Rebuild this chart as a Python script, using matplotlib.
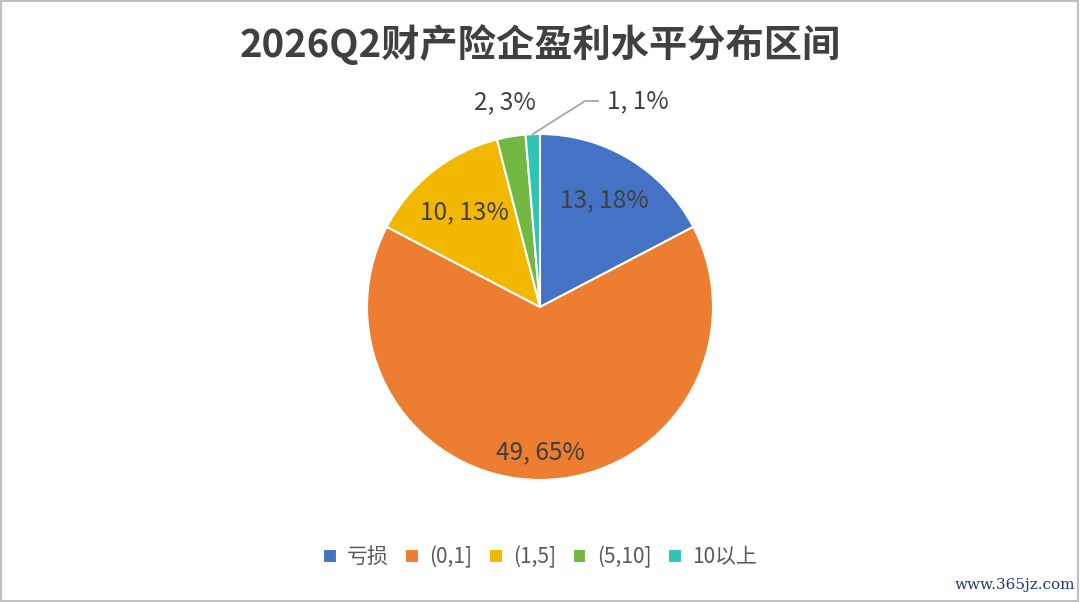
import numpy as np
import matplotlib
matplotlib.use('Agg')
import matplotlib.pyplot as plt
from matplotlib.patches import Rectangle

plt.rcParams['font.family'] = ['Noto Sans CJK SC', 'DejaVu Sans']

title = '2026Q2财产险企盈利水平分布区间'
categories = ['亏损', '(0,1]', '(1,5]', '(5,10]', '10以上']
counts = [13, 49, 10, 2, 1]
pct_labels = ['18%', '65%', '13%', '3%', '1%']
colors = ['#4472C4', '#ED7D31', '#F2B800', '#72B843', '#2EC4B6']

W, H = 1080, 602
fig = plt.figure(figsize=(W / 100, H / 100), dpi=100)
fig.patch.set_facecolor('white')

# pie centre ~ (540, 307) px, radius ~173 px
cx, cy, R = 540, H - 307, 173
ax = fig.add_axes([(cx - R) / W, (cy - R) / H, 2 * R / W, 2 * R / H])
wedges, _ = ax.pie(counts, colors=colors, startangle=90, counterclock=False,
                   wedgeprops=dict(edgecolor='white', linewidth=1.5))
ax.set_xlim(-1, 1)
ax.set_ylim(-1, 1)
ax.set_aspect('equal')
ax.axis('off')

txt_color = '#404040'
# label radius per slice (fraction of radius), >1 means outside
label_r = [0.72, 0.84, 0.70, 1.20, None]
for i, w in enumerate(wedges):
    ang = np.deg2rad((w.theta1 + w.theta2) / 2)
    s = '{}, {}'.format(counts[i], pct_labels[i])
    if label_r[i] is not None:
        r = label_r[i]
        ax.text(r * np.cos(ang), r * np.sin(ang), s, ha='center', va='center',
                fontsize=17.5, color=txt_color, clip_on=False)
    else:
        x0, y0 = np.cos(ang), np.sin(ang)
        x1, y1 = 45 / R, 206 / R
        x2 = 58 / R
        ax.plot([x0, x1, x2], [y0, y1, y1], color='#A6A6A6', lw=1.3, clip_on=False)
        ax.text(x2 + 9 / R, y1, s, ha='left', va='center', fontsize=17.5,
                color=txt_color, clip_on=False)

fig.text(0.5, 1 - 45 / H, title, ha='center', va='center', fontsize=27.5,
         fontweight='bold', color=txt_color)

fig.legend(wedges, categories, loc='center', bbox_to_anchor=(0.5, 1 - 557 / H),
           ncol=5, frameon=False, fontsize=15, handlelength=0.65, handleheight=0.65,
           handletextpad=0.5, columnspacing=0.8, labelcolor='#595959')

fig.text(1015 / W, 1 - 585 / H, 'www.365jz.com', ha='center', va='center',
         fontsize=11, color='#1F3A78', family='DejaVu Serif')

fig.patches.append(Rectangle((0.001, 0.002), 0.997, 0.996, transform=fig.transFigure,
                             fill=False, edgecolor='#BFBFBF', lw=1.5))

fig.savefig('out.png', dpi=100)
